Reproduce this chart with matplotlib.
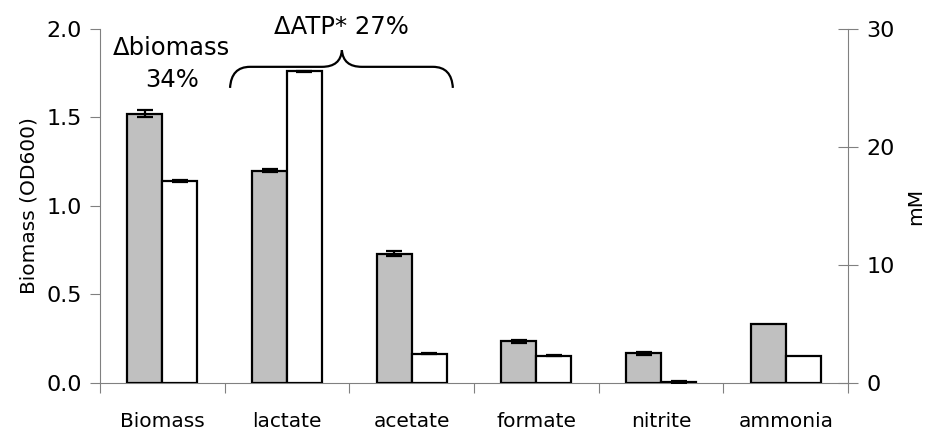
import numpy as np
import matplotlib.pyplot as plt
from matplotlib.path import Path
from matplotlib.patches import PathPatch

categories = ['Biomass', 'lactate', 'acetate', 'formate', 'nitrite', 'ammonia']

# biomass (OD600), left axis
biomass_od = [1.52, 1.14]
biomass_err = [0.02, 0.006]

# metabolites (mM), right axis
metabolites = ['lactate', 'acetate', 'formate', 'nitrite', 'ammonia']
gray_mm = [18.0, 10.95, 3.55, 2.5, 5.0]
gray_err = [0.1, 0.2, 0.12, 0.15, 0.0]
white_mm = [26.4, 2.48, 2.3, 0.1, 2.3]
white_err = [0.05, 0.03, 0.03, 0.1, 0.0]

axc = '#808080'
w = 0.28

fig = plt.figure(figsize=(9.31, 4.36), dpi=100)
ax = fig.add_axes([0.1074, 0.1216, 0.8036, 0.812])
ax2 = ax.twinx()

x = np.arange(len(categories))
ekw = dict(elinewidth=1.6, capthick=1.6, capsize=5.5, ecolor='black')

# Biomass group
ax.bar(x[0] - w / 2, biomass_od[0], w, color='#c0c0c0', edgecolor='black', lw=1.6,
       yerr=biomass_err[0], error_kw=ekw, zorder=3)
ax.bar(x[0] + w / 2, biomass_od[1], w, color='white', edgecolor='black', lw=1.6,
       yerr=biomass_err[1], error_kw=ekw, zorder=3)

# metabolites
xm = x[1:]
ax2.bar(xm - w / 2, gray_mm, w, color='#c0c0c0', edgecolor='black', lw=1.6,
        yerr=[e if e > 0 else np.nan for e in gray_err], error_kw=ekw, zorder=3)
ax2.bar(xm + w / 2, white_mm, w, color='white', edgecolor='black', lw=1.6,
        yerr=[e if e > 0 else np.nan for e in white_err], error_kw=ekw, zorder=3)

ax.set_xlim(-0.5, len(categories) - 0.5)
ax.set_ylim(0, 2.0)
ax2.set_ylim(0, 30)
ax.set_yticks([0, 0.5, 1.0, 1.5, 2.0])
ax.set_yticklabels(['0.0', '0.5', '1.0', '1.5', '2.0'])
ax2.set_yticks([0, 10, 20, 30])

ax.set_xticks(np.arange(-0.5, len(categories), 1.0))
ax.set_xticklabels([])
ax.set_xticks(x, minor=True)
ax.set_xticklabels(categories, minor=True)
ax.tick_params(axis='x', which='major', direction='out', length=7, color=axc)
ax.tick_params(axis='x', which='minor', length=0, labelsize=14.5, pad=21)
ax.tick_params(axis='y', direction='out', length=7, color=axc, labelsize=16, pad=6)
ax2.tick_params(axis='y', direction='inout', length=14, color=axc, labelsize=16, pad=6)

for a in (ax, ax2):
    a.spines['top'].set_visible(False)
    for s in ('left', 'right', 'bottom'):
        a.spines[s].set_color(axc)
ax.spines['right'].set_visible(False)
ax2.spines['left'].set_visible(False)
ax2.spines['bottom'].set_visible(False)

ax.set_ylabel('Biomass (OD600)', fontsize=14.5, labelpad=6)
ax2.set_ylabel('mM', fontsize=14.5, labelpad=8)

# annotations
ax.text(0.077, 1.89, '\u0394biomass', ha='center', va='center', fontsize=17.5)
ax.text(0.077, 1.71, '34%', ha='center', va='center', fontsize=17.5)
ax.text(1.44, 2.01, '\u0394ATP* 27%', ha='center', va='center', fontsize=17.5, clip_on=False)

# curly brace over lactate and acetate
x0, x1, xt = 0.543, 2.33, 1.44
yb, yh, yt = 1.667, 1.786, 1.88
dx = 0.16
verts = [(x0, yb), (x0 + 0.01, yh), (x0 + dx, yh),
         (xt - dx, yh),
         (xt - 0.01, yh), (xt, yt),
         (xt + 0.01, yh), (xt + dx, yh),
         (x1 - dx, yh),
         (x1 - 0.01, yh), (x1, yb)]
codes = [Path.MOVETO, Path.CURVE3, Path.CURVE3,
         Path.LINETO,
         Path.CURVE3, Path.CURVE3,
         Path.CURVE3, Path.CURVE3,
         Path.LINETO,
         Path.CURVE3, Path.CURVE3]
ax.add_patch(PathPatch(Path(verts, codes), fill=False, lw=1.6, color='black', clip_on=False))

fig.savefig('out.png', dpi=100)
